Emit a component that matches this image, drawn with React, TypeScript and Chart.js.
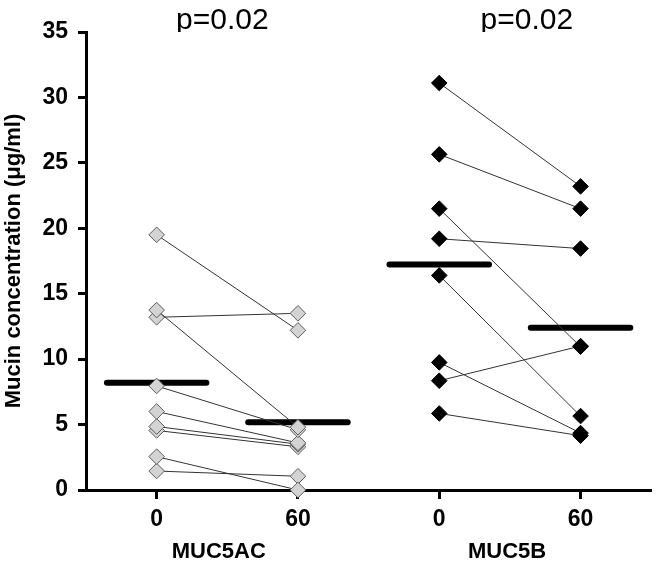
import React, { useEffect, useRef } from 'react';
import { Chart, registerables } from 'chart.js';

Chart.register(...registerables);

// ---- data ----
const timeLabels = ['0', '60', '0', '60'];
const timePositions = [0.5, 1.5, 2.5, 3.5];
const groupLabels = ['MUC5AC', 'MUC5B'];
const groupLabelPositions = [0.94, 2.98];
const pLabels = ['p=0.02', 'p=0.02'];
const pLabelPositions = [0.965, 3.12];
const yTickValues = [0, 5, 10, 15, 20, 25, 30, 35];
const yTitle = 'Mucin concentration (\u03bcg/ml)';

const muc5acT0 = [19.5, 13.75, 13.2, 7.95, 6.0, 4.85, 4.55, 2.55, 1.45];
const muc5acT60 = [12.2, 4.8, 13.5, 4.6, 3.6, 3.5, 3.3, 0.0, 1.05];
const muc5bT0 = [31.1, 25.65, 21.5, 19.2, 16.4, 9.75, 8.35, 5.85];
const muc5bT60 = [23.2, 21.5, 10.95, 18.45, 5.65, 4.35, 11.0, 4.15];

const FONT = "'Liberation Sans', Arial, Helvetica, sans-serif";
const MEAN_HALF = 0.352;

const mean = (a: number[]) => a.reduce((s, v) => s + v, 0) / a.length;

export default function App() {
  const ref = useRef<HTMLCanvasElement>(null);

  useEffect(() => {
    if (!ref.current) return;
    Chart.defaults.font.family = FONT;

    const groups = [
      { t0: muc5acT0, t60: muc5acT60, x0: timePositions[0], x1: timePositions[1], fill: '#d3d3d3', stroke: '#5c5c5c' },
      { t0: muc5bT0, t60: muc5bT60, x0: timePositions[2], x1: timePositions[3], fill: '#000000', stroke: '#000000' },
    ];

    const datasets: any[] = [];
    groups.forEach((g) => {
      g.t0.forEach((v, i) => {
        datasets.push({
          type: 'line',
          data: [
            { x: g.x0, y: v },
            { x: g.x1, y: g.t60[i] },
          ],
          borderColor: '#333333',
          borderWidth: 1,
          pointStyle: 'rectRot',
          pointRadius: 7.8,
          pointBackgroundColor: g.fill,
          pointBorderColor: g.stroke,
          pointBorderWidth: 1,
          clip: false,
          order: 0,
        });
      });
      [
        [g.x0, mean(g.t0)],
        [g.x1, mean(g.t60)],
      ].forEach(([x, m]) => {
        datasets.push({
          type: 'line',
          data: [
            { x: x - MEAN_HALF, y: m },
            { x: x + MEAN_HALF, y: m },
          ],
          borderColor: '#000000',
          borderWidth: 6,
          borderCapStyle: 'round',
          pointRadius: 0,
          clip: false,
          order: 1,
        });
      });
    });

    const chart = new Chart(ref.current, {
      type: 'line',
      data: { datasets },
      options: {
        animation: false,
        responsive: false,
        events: [],
        layout: { padding: { left: 0, right: 6, top: 0, bottom: 0 } },
        plugins: { legend: { display: false }, tooltip: { enabled: false } },
        scales: {
          x: {
            type: 'linear',
            position: 'bottom',
            min: 0,
            max: 4,
            weight: 0,
            z: 1,
            afterBuildTicks: (s: any) => {
              s.ticks = timePositions.map((v) => ({ value: v }));
            },
            afterFit: (s: any) => {
              s.height = 45;
            },
            ticks: {
              callback: (_v: any, i: number) => timeLabels[i],
              font: { size: 23, weight: 'bold' },
              color: '#000',
              padding: 7,
              autoSkip: false,
              maxRotation: 0,
            },
            grid: { display: true, drawOnChartArea: false, drawTicks: true, tickLength: 9, tickWidth: 3, tickColor: '#000' },
            border: { display: true, width: 3, color: '#000' },
          },
          xg: {
            type: 'linear',
            position: 'bottom',
            min: 0,
            max: 4,
            weight: 1,
            afterBuildTicks: (s: any) => {
              s.ticks = groupLabelPositions.map((v) => ({ value: v }));
            },
            afterFit: (s: any) => {
              s.height = 29;
            },
            ticks: {
              callback: (_v: any, i: number) => groupLabels[i],
              font: { size: 22, weight: 'bold' },
              color: '#000',
              padding: 4,
              autoSkip: false,
              maxRotation: 0,
            },
            grid: { display: false, drawTicks: false },
            border: { display: false },
          },
          xp: {
            type: 'linear',
            position: 'top',
            min: 0,
            max: 4,
            afterBuildTicks: (s: any) => {
              s.ticks = pLabelPositions.map((v) => ({ value: v }));
            },
            afterFit: (s: any) => {
              s.height = 32;
            },
            ticks: {
              callback: (_v: any, i: number) => pLabels[i],
              font: { size: 30, weight: 'normal' },
              color: '#000',
              padding: -7,
              autoSkip: false,
              maxRotation: 0,
            },
            grid: { display: false, drawTicks: false },
            border: { display: false },
          },
          y: {
            type: 'linear',
            position: 'left',
            min: 0,
            max: 35,
            afterBuildTicks: (s: any) => {
              s.ticks = yTickValues.map((v) => ({ value: v }));
            },
            afterFit: (s: any) => {
              s.width = 86;
            },
            ticks: {
              font: { size: 23, weight: 'bold' },
              color: '#000',
              padding: 10,
            },
            grid: { display: true, drawOnChartArea: false, tickLength: 8, tickWidth: 3, tickColor: '#000' },
            border: { display: true, width: 3, color: '#000' },
            title: {
              display: true,
              text: yTitle,
              font: { size: 22, weight: 'bold' },
              color: '#000',
              padding: { top: 1, bottom: 0 },
            },
          },
        },
      } as any,
    });

    return () => chart.destroy();
  }, []);

  return (
    <div style={{ position: 'fixed', left: 0, top: 0, width: 660, height: 564, background: '#fff' }}>
      <canvas ref={ref} width={660} height={564} style={{ display: 'block', width: 660, height: 564 }} />
    </div>
  );
}
